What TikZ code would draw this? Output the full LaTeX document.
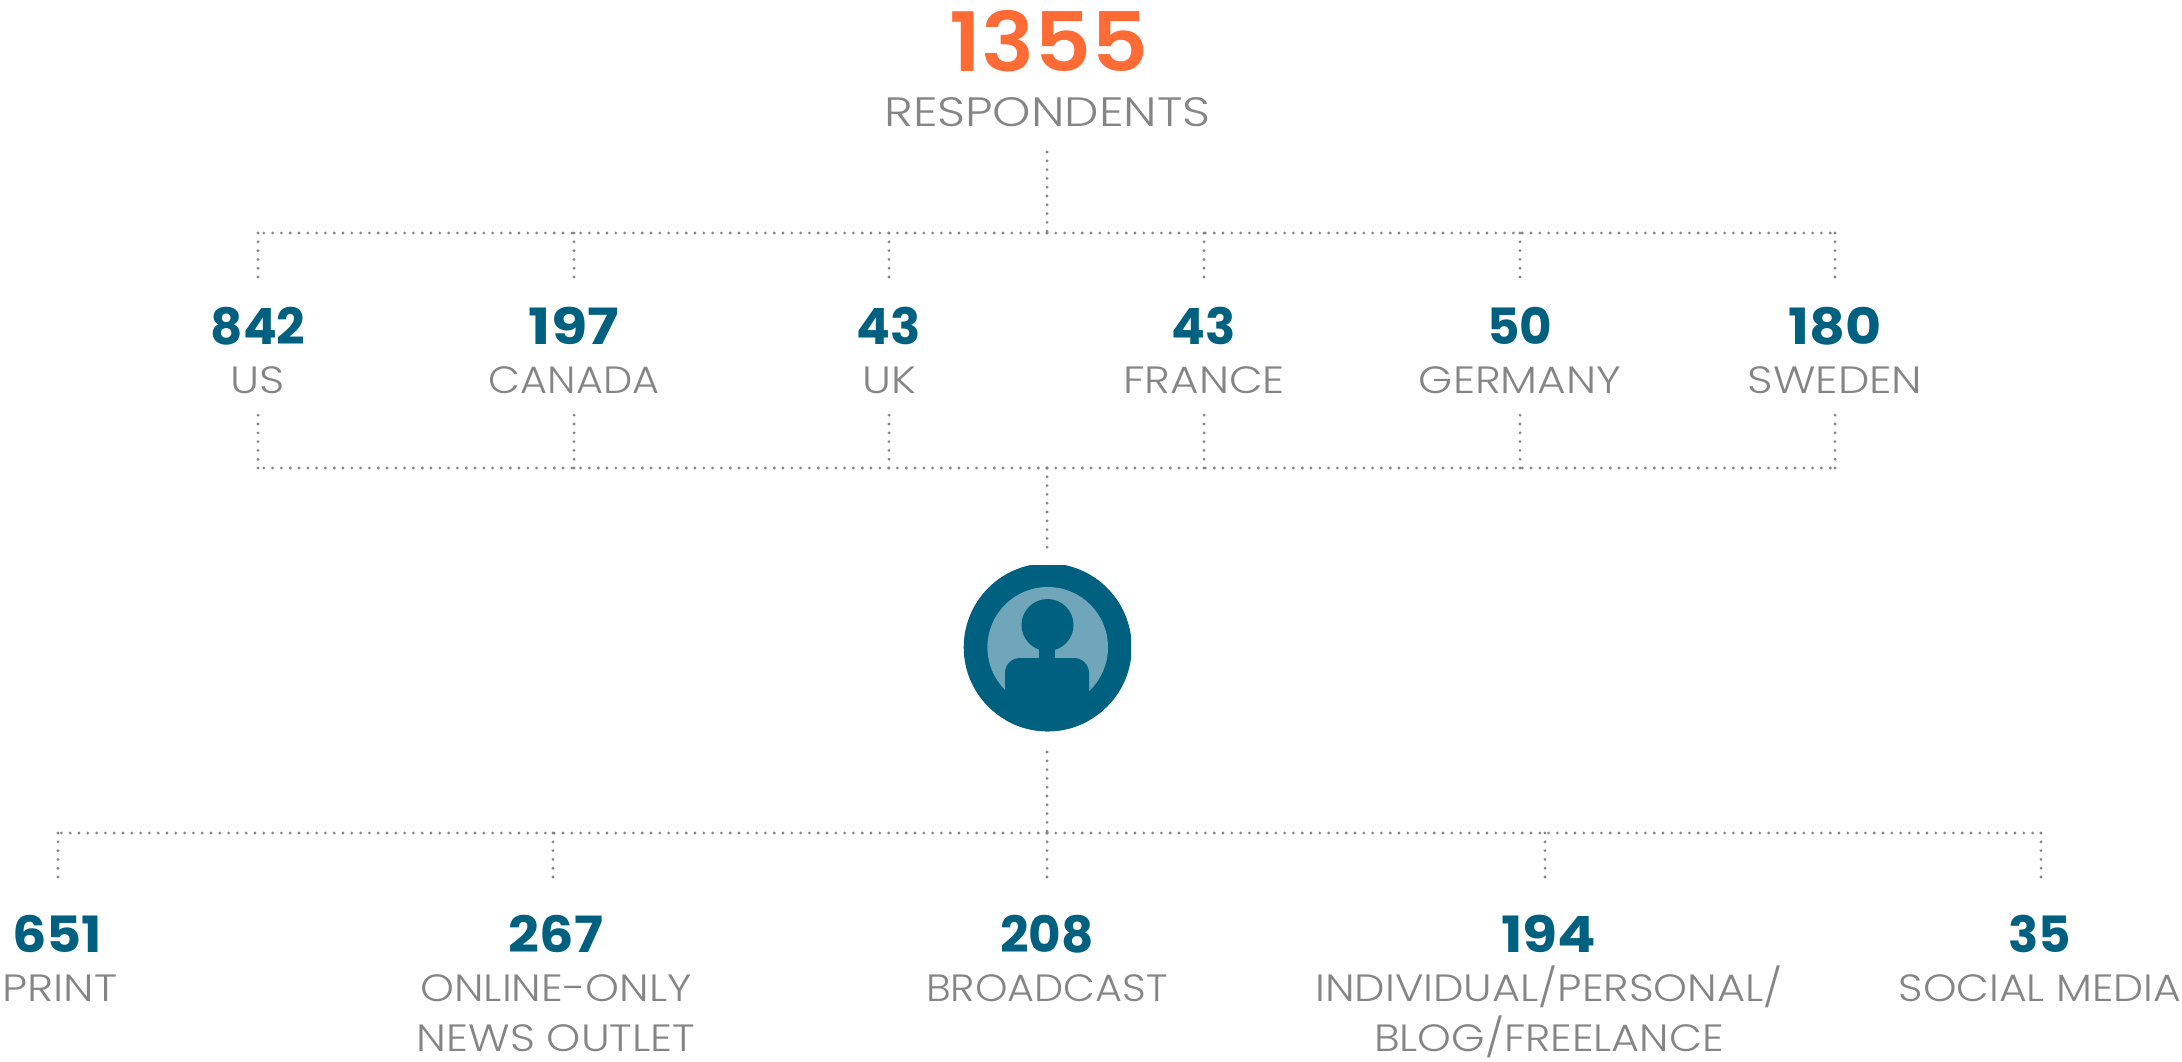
\documentclass[tikz,border=0pt]{standalone}
\usepackage{fontspec}
\setmainfont{Poppins Light}[BoldFont={Poppins SemiBold}]
\newfontfamily\numfont{Poppins Bold}
\newfontfamily\bignumfont{Poppins SemiBold}
\definecolor{dblue}{HTML}{00607F}
\definecolor{lblue}{HTML}{70A6B9}
\definecolor{orng}{HTML}{FF6B35}
\definecolor{lgray}{HTML}{858585}
\tikzset{
 x=1pt,y=-1pt,
 dotline/.style={draw=lgray,line width=3.1pt,line cap=round,dash pattern=on 0pt off 8.8pt},
 numtext/.style={anchor=base,inner sep=0pt,text=dblue,font=\numfont\fontsize{50}{50}\selectfont},
 labtext/.style={anchor=base,inner sep=0pt,text=lgray,font=\fontsize{38}{50}\selectfont,align=center}
}
\newcommand{\sx}[2]{\scalebox{#1}[1]{#2}}
\begin{document}
\begin{tikzpicture}
\useasboundingbox (0,0) rectangle (2182,1062);
\node[anchor=base,inner sep=0pt,text=orng,font=\bignumfont\fontsize{82}{82}\selectfont] (total) at (1049,72) {\sx{1.08}{1355}};
\node[labtext,font=\fontsize{41}{50}\selectfont] (resp) at (1047.5,126.5) {\sx{1.19}{RESPONDENTS}};
% top bus
\coordinate (t0) at (1047,152);
\coordinate (tb) at (1047,233);
\coordinate (tl) at (258,233);
\coordinate (tr) at (1835,233);
\draw[dotline] (t0) -- (tb);
\draw[dotline] (tb) -- (tl);
\draw[dotline] (tb) -- (tr);
% middle bus
\coordinate (mb) at (1047,468);
\coordinate (ml) at (258,468);
\coordinate (mr) at (1835,468);
\coordinate (m0) at (1047,552);
\draw[dotline] (mb) -- (m0);
\draw[dotline] (mb) -- (ml);
\draw[dotline] (mb) -- (mr);
% columns
\foreach \n/\x/\a/\sa/\b/\sb in {us/258/842/1/US/1.156,ca/574/197/1.18/CANADA/1.09,uk/889/43/1/UK/1.15,fr/1204/43/1/FRANCE/1.15,de/1520/50/1/GERMANY/1.153,se/1835/180/1.11/SWEDEN/1.17}{
  \node[numtext] (n\n) at (\x,344) {\sx{\sa}{\a}};
  \node[labtext] (l\n) at (\x,393) {\sx{\sb}{\b}};
  \coordinate (a\n) at (\x,233);
  \coordinate (b\n) at (\x,285);
  \coordinate (c\n) at (\x,415);
  \coordinate (d\n) at (\x,468);
  \draw[dotline] (a\n) -- (b\n);
  \draw[dotline] (d\n) -- (c\n);
}
% icon
\begin{scope}
\clip (960,565) rectangle (1131,735);
\fill[dblue] (1047.7,647.3) circle[radius=84];
\end{scope}
\fill[lblue] (1047.7,647.3) circle[radius=60.3];
\fill[dblue] (1047.5,625) circle[radius=26];
\fill[dblue] (1039,640) rectangle (1055,660);
\begin{scope}
\clip (1047.7,647.3) circle[radius=84];
\fill[dblue,rounded corners=15pt] (1005,720) -- (1005,658) -- (1089,658) -- (1089,720) -- cycle;
\fill[dblue] (1005,690) rectangle (1089,731.5);
\end{scope}
% bottom bus
\coordinate (i0) at (1047,752);
\coordinate (bb) at (1047,833);
\coordinate (bl) at (58,833);
\coordinate (br) at (2041,833);
\draw[dotline] (i0) -- (bb);
\draw[dotline] (bb) -- (bl);
\draw[dotline] (bb) -- (br);
\foreach \n/\x in {p/58,o/553,b/1047,i/1545,s/2041}{
  \coordinate (e\n) at (\x,833);
  \coordinate (f\n) at (\x,885);
  \draw[dotline] (e\n) -- (f\n);
}
\node[numtext] (np) at (57,952) {\sx{1.08}{651}};
\node[numtext] (no) at (556,952) {\sx{1.08}{267}};
\node[numtext] (nb) at (1047,952) {208};
\node[numtext] (ni) at (1549,952) {\sx{1.14}{194}};
\node[numtext] (ns) at (2040,952) {35};
\node[labtext] (lp) at (60,1001) {\sx{1.17}{PRINT}};
\node[labtext] (lo1) at (556,1001) {\sx{1.134}{ONLINE-ONLY}};
\node[labtext] (lo2) at (556,1051) {\sx{1.144}{NEWS OUTLET}};
\node[labtext] (lb) at (1047,1001) {\sx{1.088}{BROADCAST}};
\node[labtext] (li1) at (1549,1001) {\sx{1.136}{INDIVIDUAL/PERSONAL/}};
\node[labtext] (li2) at (1549,1051) {\sx{1.13}{BLOG/FREELANCE}};
\node[labtext] (ls) at (2040,1001) {\sx{1.12}{SOCIAL MEDIA}};
\end{tikzpicture}
\end{document}
